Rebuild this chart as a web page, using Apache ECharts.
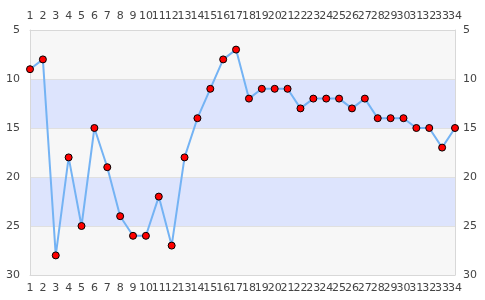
<!DOCTYPE html>
<html><head><meta charset="utf-8">
<script src="https://cdn.jsdelivr.net/npm/echarts@6/dist/echarts.min.js"></script>
<style>html,body{margin:0;padding:0;background:#fff}#c{width:485px;height:300px}</style>
</head><body><div id="c"></div>
<script>
const categories = ['1','2','3','4','5','6','7','8','9','10','11','12','13','14','15','16','17','18','19','20','21','22','23','24','25','26','27','28','29','30','31','32','33','34'];
const values = [9,8,28,18,25,15,19,24,26,26,22,27,18,14,11,8,7,12,11,11,11,13,12,12,12,13,12,14,14,14,15,15,17,15];
const yMin = 5, yMax = 30, yInterval = 5;

const chart = echarts.init(document.getElementById('c'), null, {renderer:'canvas'});
const labelStyle = {color:'#444', fontSize:11, fontFamily:'DejaVu Sans'};
const xBase = {
  type:'category', data:categories, boundaryGap:false,
  axisLine:{show:true, lineStyle:{color:'#d8d8d8'}},
  axisTick:{show:false},
  axisLabel:Object.assign({interval:0, margin:8}, labelStyle),
  splitLine:{show:false}
};
const yBase = {
  type:'value', inverse:true, min:yMin, max:yMax, interval:yInterval,
  axisLine:{show:true, lineStyle:{color:'#d8d8d8'}},
  axisTick:{show:false},
  axisLabel:Object.assign({margin:10}, labelStyle),
  splitLine:{show:true, lineStyle:{color:'#e0e0e0'}},
  splitArea:{show:true, areaStyle:{color:['#f7f7f7','#dde4fd']}}
};
chart.setOption({
  animation:false,
  grid:{left:30, right:30, top:30, bottom:25},
  xAxis:[Object.assign({position:'bottom'}, xBase), Object.assign({position:'top'}, xBase)],
  yAxis:[Object.assign({position:'left'}, yBase),
         Object.assign({position:'right'}, yBase, {axisLabel:Object.assign({margin:8}, labelStyle), splitLine:{show:false}, splitArea:{show:false}})],
  series:[{
    type:'line', data:values, xAxisIndex:0, yAxisIndex:0,
    symbol:'circle', symbolSize:7,
    lineStyle:{color:'#74b3f4', width:2},
    itemStyle:{color:'#ff0000', borderColor:'#000', borderWidth:1}
  }]
});
</script></body></html>
